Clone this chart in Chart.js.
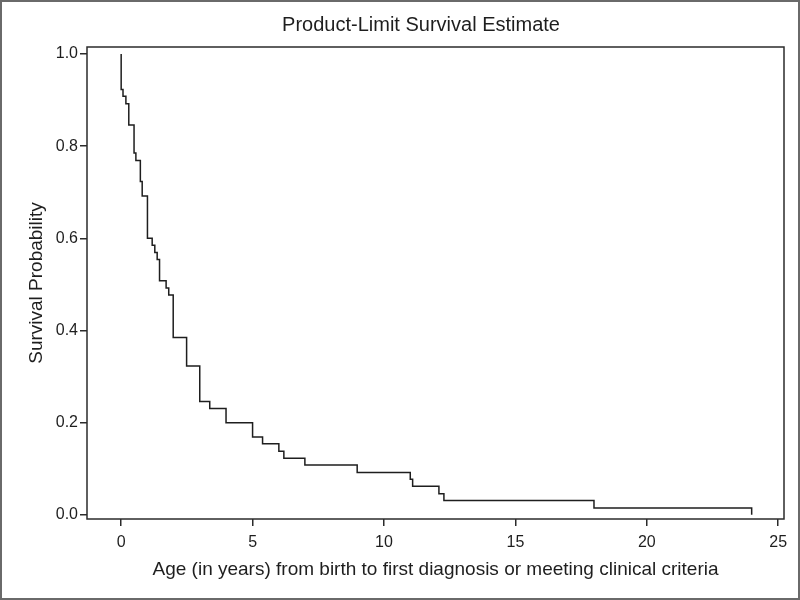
<!DOCTYPE html>
<html>
<head>
<meta charset="utf-8">
<script src="https://cdn.jsdelivr.net/npm/chart.js@4"></script>
<style>
  html, body { margin: 0; padding: 0; background: #fff; }
  #wrap { width: 800px; height: 600px; position: relative; }
</style>
</head>
<body>
<div id="wrap"><canvas id="c" width="800" height="600"></canvas></div>
<script>
// Kaplan-Meier step points: time (years) and survival after the event
const times = [0, 0, 0.07, 0.18, 0.29, 0.49, 0.56, 0.73, 0.80, 1.00, 1.18, 1.28, 1.37, 1.46, 1.71, 1.81, 1.98, 2.49, 2.99, 3.37, 3.99, 5.00, 5.38, 6.00, 6.19, 6.99, 8.98, 11.00, 11.09, 12.09, 12.28, 17.99, 23.99];
const survival = [1.000, 0.923, 0.908, 0.892, 0.846, 0.785, 0.769, 0.723, 0.692, 0.600, 0.585, 0.569, 0.554, 0.508, 0.492, 0.477, 0.385, 0.323, 0.246, 0.231, 0.200, 0.169, 0.154, 0.138, 0.123, 0.108, 0.092, 0.077, 0.062, 0.046, 0.031, 0.015, 0.000];
const xTicks = [0, 5, 10, 15, 20, 25];
const yTicks = [0.0, 0.2, 0.4, 0.6, 0.8, 1.0];
const chartTitle = 'Product-Limit Survival Estimate';

const FONT = "'Liberation Sans', Arial, Helvetica, sans-serif";
const INK = '#1e1e1e';

const points = times.map((t, i) => ({ x: t, y: survival[i] }));

const framePlugin = {
  id: 'frame',
  beforeDraw(chart) {
    const ctx = chart.ctx;
    ctx.save();
    ctx.fillStyle = '#ffffff';
    ctx.fillRect(0, 0, chart.width, chart.height);
    ctx.restore();
  },
  afterDraw(chart) {
    const ctx = chart.ctx;
    const a = chart.chartArea;
    ctx.save();
    // plot box
    ctx.strokeStyle = '#2b2b2b';
    ctx.lineWidth = 1.5;
    ctx.strokeRect(a.left, a.top, a.right - a.left, a.bottom - a.top);
    // outer frame
    ctx.strokeStyle = '#6a6a6a';
    ctx.lineWidth = 2;
    ctx.strokeRect(1, 1, chart.width - 2, chart.height - 2);
    // title
    ctx.fillStyle = INK;
    ctx.font = '20px ' + FONT;
    ctx.textAlign = 'center';
    ctx.textBaseline = 'middle';
    ctx.fillText(chartTitle, 421, 25);
    ctx.restore();
  }
};

new Chart(document.getElementById('c'), {
  type: 'line',
  data: {
    datasets: [{
      data: points,
      stepped: 'before',
      borderColor: INK,
      borderWidth: 1.5,
      pointRadius: 0,
      fill: false,
      tension: 0
    }]
  },
  options: {
    responsive: false,
    animation: false,
    layout: { padding: { left: 0, right: 16, top: 47, bottom: 0 } },
    plugins: {
      legend: { display: false },
      tooltip: { enabled: false },
      title: { display: false }
    },
    scales: {
      x: {
        type: 'linear',
        min: -1.3,
        max: 25.22,
        afterFit(scale) { scale.height = 81; },
        afterBuildTicks(scale) { scale.ticks = xTicks.map(v => ({ value: v })); },
        border: { display: false },
        grid: { drawOnChartArea: false, drawTicks: true, tickLength: 7, color: '#2b2b2b', lineWidth: 1.5 },
        ticks: {
          color: INK,
          padding: 7,
          maxRotation: 0,
          font: { family: FONT, size: 16 },
          callback: v => String(v)
        },
        title: {
          display: true,
          text: 'Age (in years) from birth to first diagnosis or meeting clinical criteria',
          color: INK,
          font: { family: FONT, size: 19 },
          padding: { top: 0, bottom: 18.6 }
        }
      },
      y: {
        type: 'linear',
        min: -0.009,
        max: 1.015,
        afterFit(scale) { scale.width = 87; },
        afterBuildTicks(scale) { scale.ticks = yTicks.map(v => ({ value: v })); },
        border: { display: false },
        grid: { drawOnChartArea: false, drawTicks: true, tickLength: 7, color: '#2b2b2b', lineWidth: 1.5 },
        ticks: {
          color: INK,
          padding: 2,
          font: { family: FONT, size: 16 },
          callback: v => Number(v).toFixed(1)
        },
        title: {
          display: true,
          text: 'Survival Probability',
          color: INK,
          font: { family: FONT, size: 19 },
          padding: { top: 25.6, bottom: 0 }
        }
      }
    }
  },
  plugins: [framePlugin]
});
</script>
</body>
</html>
